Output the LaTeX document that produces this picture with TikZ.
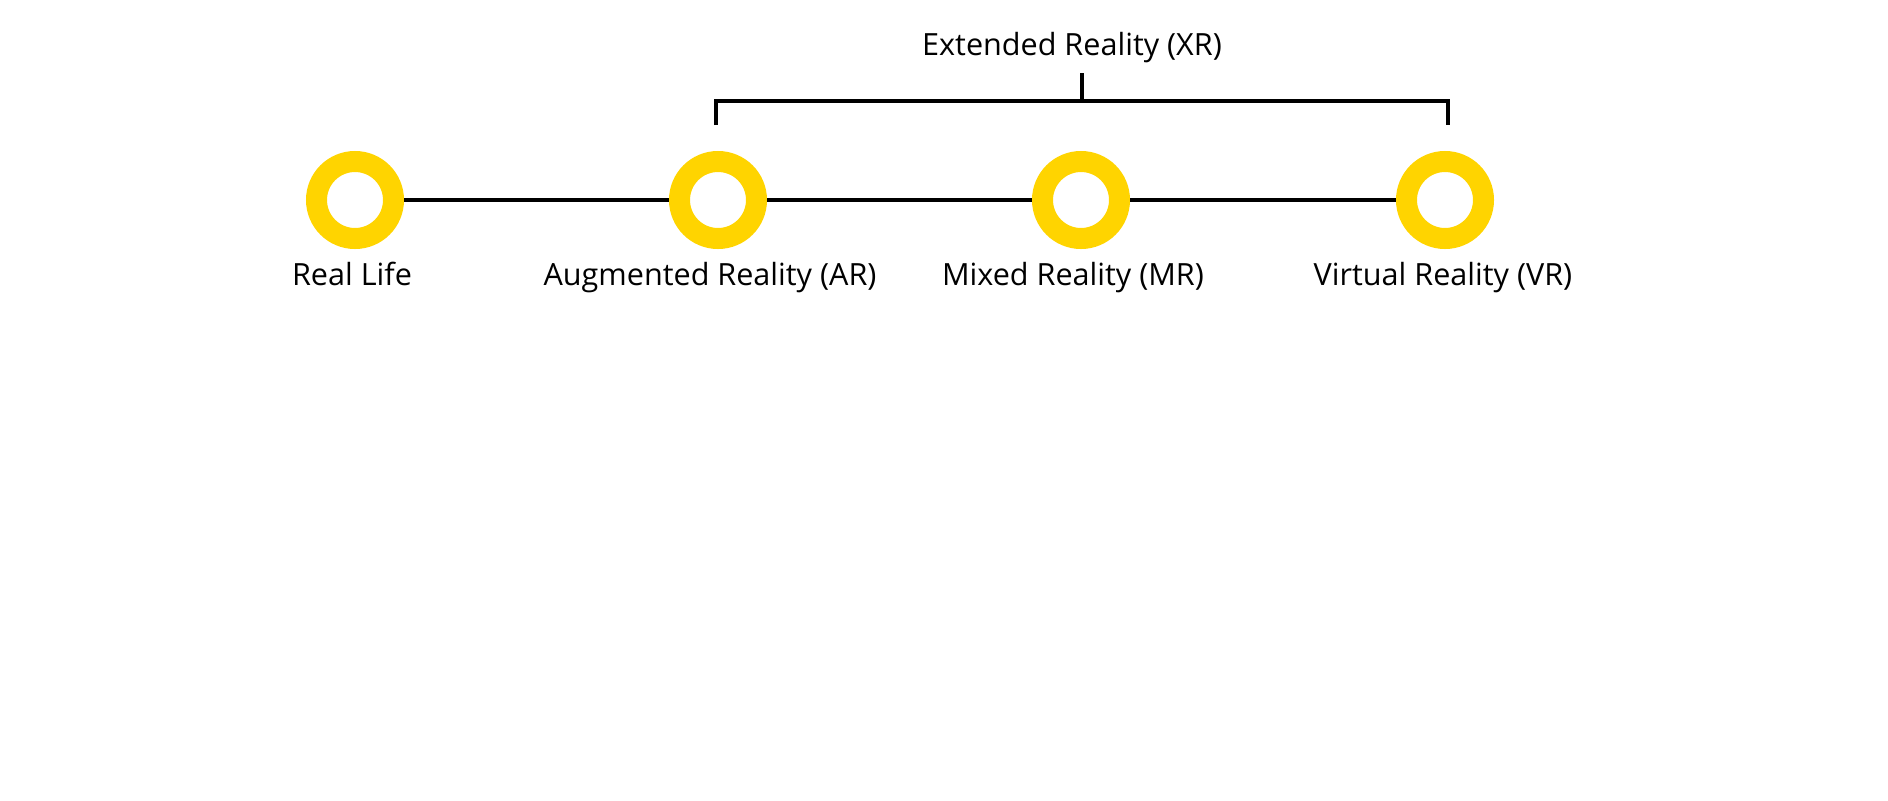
\documentclass[tikz,border=0pt]{standalone}
\usepackage{fontspec}
\setmainfont{Open Sans}
\usepackage{xcolor}
\usepackage{tikz}
\usetikzlibrary{calc}
\usetikzlibrary{positioning}
\definecolor{ringyellow}{RGB}{255,212,0}

\begin{document}
\begin{tikzpicture}[x=0.2mm,y=-0.2mm,
	ring/.style={circle,draw=ringyellow,line width=4.2mm,minimum size=15.4mm,inner sep=0pt},
	lbl/.style={anchor=base,font=\fontsize{17.4}{21}\selectfont},
	bar/.style={line width=0.8mm}]
	\useasboundingbox (0,0) rectangle (1888,800);
	\node[ring] (rl) at (355,200) {};
	\node[ring] (ar) at (718,200) {};
	\node[ring] (mr) at (1081,200) {};
	\node[ring] (vr) at (1445,200) {};
	\draw[bar] (rl)--(ar);
	\draw[bar] (ar)--(mr);
	\draw[bar] (mr)--(vr);
	\node[lbl] (rltxt) at (352,285) {Real Life};
	\node[lbl] (artxt) at (710,285) {Augmented Reality (AR)};
	\node[lbl] (mrtxt) at (1073,285) {Mixed Reality (MR)};
	\node[lbl] (vrtxt) at (1443,285) {Virtual Reality (VR)};
	\node[lbl] (xr) at (1072,55) {Extended Reality (XR)};
	\coordinate (brl) at (716,125);
	\coordinate (brr) at (1448,125);
	\coordinate (brm) at (1082,101);
	\draw[bar] (brl)--(brl |- brm)--(brr |- brm)--(brr);
	\draw[bar] (brm)--(1082,73);
\end{tikzpicture}
\end{document}
